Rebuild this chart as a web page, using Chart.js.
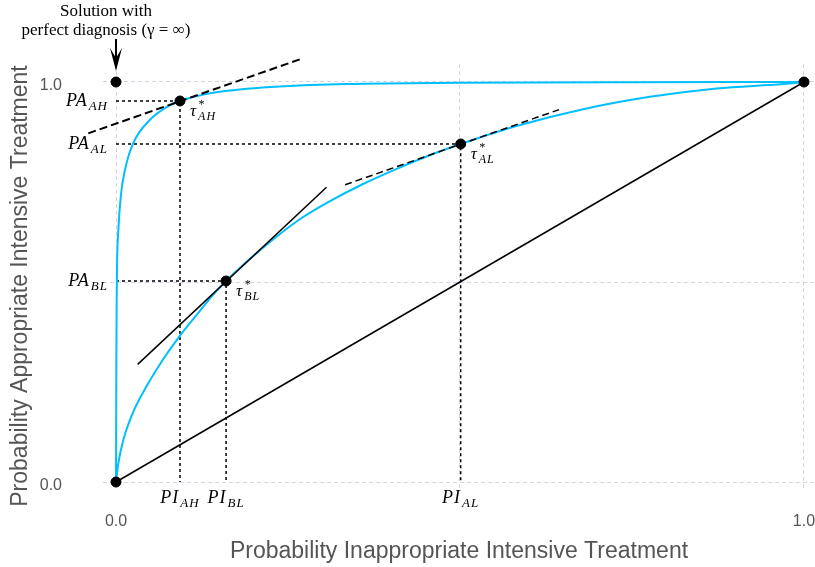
<!DOCTYPE html>
<html>
<head>
    <script src="https://cdn.jsdelivr.net/npm/chart.js"></script>
    <style>
        html, body {
            margin: 0;
            padding: 0;
            background: #ffffff;
        }
        canvas {
            display: block;
        }
    </style>
</head>
<body>
    <canvas id="roc" width="815" height="567"></canvas>

    <script>
        // ROC curve with high diagnostic accuracy (steep one)
        let highX = [0, 0.0005, 0.001, 0.0015, 0.0034, 0.0073, 0.013, 0.025, 0.049, 0.074, 0.093, 0.141, 0.19, 0.238, 0.335, 0.5, 0.75, 1];
        let highY = [0, 0.3, 0.455, 0.54, 0.63, 0.72, 0.78, 0.847, 0.905, 0.938, 0.9525, 0.973, 0.983, 0.989, 0.995, 0.998, 0.9995, 1];

        // ROC curve with low diagnostic accuracy
        let lowX = [0, 0.0034, 0.0106, 0.025, 0.045, 0.069, 0.093, 0.122, 0.141, 0.16, 0.214, 0.263, 0.311, 0.359, 0.408, 0.456, 0.501, 0.582, 0.679, 0.776, 0.873, 0.97, 1];
        let lowY = [0, 0.047, 0.105, 0.175, 0.241, 0.308, 0.366, 0.428, 0.468, 0.5025, 0.586, 0.652, 0.702, 0.745, 0.783, 0.817, 0.845, 0.89, 0.932, 0.963, 0.984, 0.995, 1];

        // optimal operating points tau*
        let optNames = ['AH', 'AL', 'BL'];
        let optX = [0.093, 0.501, 0.16];
        let optY = [0.9525, 0.845, 0.5025];

        // corner points and chance diagonal
        let cornerX = [0, 0, 1];
        let cornerY = [0, 1, 1];
        let diagX = [0, 1];
        let diagY = [0, 1];

        // tangent (iso-utility) lines at the optimal points
        let tanAHX = [-0.0403, 0.2714];
        let tanAHY = [0.8717, 1.0592];
        let tanALX = [0.333, 0.644];
        let tanALY = [0.743, 0.931];
        let tanBLX = [0.0315, 0.306];
        let tanBLY = [0.294, 0.737];

        let tickVals = [0, 0.5, 1];
        let tickText = ['0.0', '', '1.0'];

        let cyan = '#00BFFF';
        let serif = '"Liberation Serif", "DejaVu Serif", serif';

        function pts(xs, ys) {
            return xs.map((x, i) => ({ x: x, y: ys[i] }));
        }

        function guide(i) {
            return [{ x: 0, y: optY[i] }, { x: optX[i], y: optY[i] }, { x: optX[i], y: 0 }];
        }

        function lineSet(data, color, width, dash, extra) {
            return Object.assign({
                data: data,
                showLine: true,
                borderColor: color,
                borderWidth: width,
                borderDash: dash,
                pointRadius: 0,
                fill: false,
                tension: 0
            }, extra || {});
        }

        // first dataset is drawn on top
        let datasets = [
            { data: pts(optX, optY), backgroundColor: '#000', borderColor: '#000', pointRadius: 5, pointHoverRadius: 5 },
            { data: pts(cornerX, cornerY), backgroundColor: '#000', borderColor: '#000', pointRadius: 5, pointHoverRadius: 5 },
            lineSet(pts(tanAHX, tanAHY), '#000', 2, [8, 4], { clip: false }),
            lineSet(pts(tanALX, tanALY), '#000', 1.5, [7, 4]),
            lineSet(pts(tanBLX, tanBLY), '#000', 1.5, []),
            lineSet(pts(highX, highY), cyan, 2, [], { cubicInterpolationMode: 'monotone' }),
            lineSet(pts(lowX, lowY), cyan, 2, [], { cubicInterpolationMode: 'monotone' }),
            lineSet(pts(diagX, diagY), '#000', 1.5, []),
            lineSet(guide(0), '#000', 1.5, [3, 3]),
            lineSet(guide(1), '#000', 1.5, [3, 3]),
            lineSet(guide(2), '#000', 1.5, [3, 3])
        ];

        // base letters in italic with subscript and optional superscript
        function mathLabel(ctx, base, sub, sup, x, baseline, align, size) {
            let big = 'italic ' + size + 'px ' + serif;
            let small = 'italic ' + Math.round(size * 0.7) + 'px ' + serif;
            ctx.font = big;
            let wb = ctx.measureText(base).width;
            ctx.font = small;
            let ws = ctx.measureText(sub).width;
            let total = wb + 1 + ws;
            let x0 = x;
            if (align === 'right') x0 = x - total;
            if (align === 'center') x0 = x - total / 2;
            ctx.textAlign = 'left';
            ctx.textBaseline = 'alphabetic';
            ctx.font = big;
            ctx.fillText(base, x0, baseline);
            ctx.font = small;
            ctx.fillText(sub, x0 + wb + 1, baseline + 4);
            if (sup) ctx.fillText(sup, x0 + wb + 1, baseline - 8);
        }

        // let the plot panel run to the right edge of the canvas
        let stretchPlugin = {
            id: 'stretch',
            afterLayout(chart) {
                let area = chart.chartArea;
                let extra = chart.width - area.right;
                if (extra > 0) {
                    area.right += extra;
                    area.width += extra;
                    let xs = chart.scales.x;
                    xs.right += extra;
                    xs.width += extra;
                    xs.configure();
                }
            }
        };

        let labelPlugin = {
            id: 'labels',
            afterDraw(chart) {
                let ctx = chart.ctx;
                let xs = chart.scales.x;
                let ys = chart.scales.y;
                let x0 = xs.getPixelForValue(0);
                let y0 = ys.getPixelForValue(0);
                ctx.save();
                ctx.fillStyle = '#000';
                ctx.letterSpacing = '1px';

                optNames.forEach((n, i) => {
                    let px = xs.getPixelForValue(optX[i]);
                    let py = ys.getPixelForValue(optY[i]);
                    mathLabel(ctx, 'PA', n, null, x0 - 8, py + 5, 'right', 18);
                    mathLabel(ctx, 'PI', n, null, px, y0 + 21, 'center', 18);
                    mathLabel(ctx, '\u03C4', n, '*', px + 10, py + 15, 'left', 17);
                });
                ctx.letterSpacing = '0px';

                // annotation for the perfect diagnosis corner
                let top = ys.getPixelForValue(1);
                ctx.font = '17px ' + serif;
                ctx.textAlign = 'center';
                ctx.textBaseline = 'alphabetic';
                ctx.fillText('Solution with', x0 - 10, 16);
                ctx.fillText('perfect diagnosis (\u03B3 = \u221E)', x0 - 10, 35);

                ctx.strokeStyle = '#000';
                ctx.lineWidth = 2;
                ctx.beginPath();
                ctx.moveTo(x0, 39);
                ctx.lineTo(x0, top - 22);
                ctx.stroke();
                ctx.beginPath();
                ctx.moveTo(x0, top - 11);
                ctx.lineTo(x0 - 6, top - 34);
                ctx.lineTo(x0, top - 24);
                ctx.lineTo(x0 + 6, top - 34);
                ctx.closePath();
                ctx.fill();

                // y axis title, centred like the reference
                ctx.translate(21, 286);
                ctx.rotate(-Math.PI / 2);
                ctx.font = '23px "Liberation Sans", Arial, sans-serif';
                ctx.fillStyle = '#555';
                ctx.textAlign = 'center';
                ctx.textBaseline = 'middle';
                ctx.fillText('Probability Appropriate Intensive Treatment', 0, 0);
                ctx.restore();
            }
        };

        Chart.defaults.font.family = '"Liberation Sans", Arial, sans-serif';

        let axisCommon = {
            type: 'linear',
            afterBuildTicks: (s) => { s.ticks = tickVals.map(v => ({ value: v })); },
            grid: { color: '#d4d1e8', lineWidth: 1, drawTicks: false },
            border: { display: false, dash: [4, 3] }
        };

        let rocChart = new Chart(document.getElementById('roc').getContext('2d'), {
            type: 'scatter',
            data: { datasets: datasets },
            options: {
                responsive: false,
                animation: false,
                events: [],
                layout: { padding: { top: 64, right: 0, left: 0, bottom: 0 } },
                plugins: {
                    legend: { display: false },
                    tooltip: { enabled: false }
                },
                scales: {
                    x: Object.assign({}, axisCommon, {
                        min: -0.0189,
                        max: 1.016,
                        afterFit: (s) => {
                            s.height = 77;
                            s.paddingLeft = 0;
                            s.paddingRight = 0;
                        },
                        ticks: {
                            callback: (v, i) => tickText[i],
                            color: '#555',
                            font: { size: 16 },
                            padding: 22,
                            maxRotation: 0,
                            autoSkip: false
                        },
                        title: {
                            display: true,
                            text: 'Probability Inappropriate Intensive Treatment',
                            color: '#555',
                            font: { size: 23 },
                            padding: { top: 0, bottom: 2 }
                        }
                    }),
                    y: Object.assign({}, axisCommon, {
                        min: -0.02,
                        max: 1.045,
                        afterFit: (s) => {
                            s.width = 103;
                            s.paddingTop = 0;
                            s.paddingBottom = 0;
                        },
                        ticks: {
                            callback: (v, i) => tickText[i],
                            color: '#555',
                            font: { size: 16 },
                            padding: 41,
                            labelOffset: 4,
                            autoSkip: false
                        }
                    })
                }
            },
            plugins: [stretchPlugin, labelPlugin]
        });
    </script>
</body>
</html>
